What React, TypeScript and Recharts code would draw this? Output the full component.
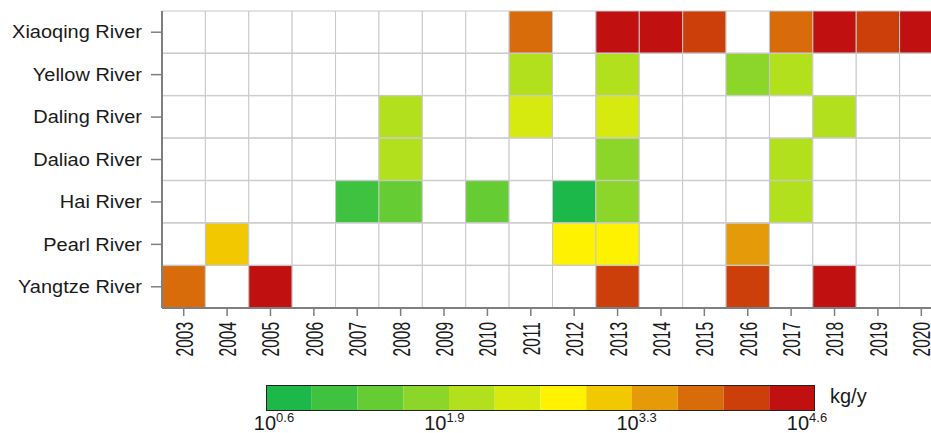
import * as React from 'react';
import { BarChart, Bar, Cell, XAxis, YAxis } from 'recharts';

// categories
const years = [2003, 2004, 2005, 2006, 2007, 2008, 2009, 2010, 2011, 2012, 2013, 2014, 2015, 2016, 2017, 2018, 2019, 2020];
const rivers = ['Xiaoqing River', 'Yellow River', 'Daling River', 'Daliao River', 'Hai River', 'Pearl River', 'Yangtze River'];

// log10(kg/y) per year, null = no data
const xiaoqing = [null, null, null, null, null, null, null, null, 3.77, null, 4.43, 4.43, 4.1, null, 3.77, 4.43, 4.1, 4.43];
const yellow = [null, null, null, null, null, null, null, null, 2.1, null, 2.1, null, null, 1.77, 2.1, null, null, null];
const daling = [null, null, null, null, null, 2.1, null, null, 2.43, null, 2.43, null, null, null, null, 2.1, null, null];
const daliao = [null, null, null, null, null, 2.1, null, null, null, null, 1.77, null, null, null, 2.1, null, null, null];
const hai = [null, null, null, null, 1.1, 1.43, null, 1.43, null, 0.77, 1.77, null, null, null, 2.1, null, null, null];
const pearl = [null, 3.1, null, null, null, null, null, null, null, 2.77, 2.77, null, null, 3.43, null, null, null, null];
const yangtze = [3.77, null, 4.43, null, null, null, null, null, null, null, 4.1, null, null, 4.1, null, 4.43, null, null];
const riverValues = [xiaoqing, yellow, daling, daliao, hai, pearl, yangtze];

// colour scale
const LOG_MIN = 0.6;
const LOG_MAX = 4.6;
const binColors = [
  '#1db84a', '#3ec23f', '#66cc33', '#8cd62a', '#b2e01c', '#d6ea10',
  '#fff200', '#f2c800', '#e59a0a', '#d96c0a', '#cc3e0a', '#c0100f'
];
const colorbarTicks = [0.6, 1.9, 3.3, 4.6];

const FONT = '"Liberation Sans", Arial, Helvetica, sans-serif';
const GRID = '#c8c8c8';
const AXIS = '#7f7f7f';

const BIN_STEP = (LOG_MAX - LOG_MIN) / binColors.length;

const colorFor = (v: number | null) => {
  if (v === null || v === undefined) return '#ffffff';
  const i = Math.max(0, Math.min(binColors.length - 1, Math.floor((v - LOG_MIN) / BIN_STEP)));
  return binColors[i];
};

const gridData = rivers.map((river) => {
  const row: Record<string, string | number> = { river };
  years.forEach((y) => { row[`y${y}`] = 1; });
  return row;
});

// one stacked row: a hidden offset up to LOG_MIN, then one segment per colour bin
const colorbarRow: Record<string, string | number> = { name: 'scale', offset: LOG_MIN };
binColors.forEach((_, i) => { colorbarRow[`b${i}`] = BIN_STEP; });
const colorbarData = [colorbarRow];

const RiverTick = (props: any) => {
  const { x, y, payload } = props;
  return (
    <g transform={`translate(${x},${y}) scale(1.08,1)`}>
      <text x={0} y={0} textAnchor="end" dominantBaseline="central" fontSize={18.5} fontFamily={FONT} fill="#1a1a1a">
        {payload.value}
      </text>
    </g>
  );
};

const YearTick = (props: any) => {
  const { x, y, payload } = props;
  const year = years[Math.round(payload.value - 0.5)];
  return (
    <g transform={`translate(${x},${y}) rotate(-90) scale(1,1.58)`}>
      <text x={0} y={0} textAnchor="end" dominantBaseline="central" fontSize={15.5} fontFamily={FONT} fill="#1a1a1a">
        {year}
      </text>
    </g>
  );
};

const PowerTick = (props: any) => {
  const { x, y, payload, index } = props;
  const dx = index === 0 ? 8 : index === colorbarTicks.length - 1 ? -8 : 0;
  return (
    <text x={x + dx} y={y + 15} textAnchor="middle" fontSize={20} fontFamily={FONT} fill="#1a1a1a">
      <tspan>10</tspan>
      <tspan dy={-8} fontSize={13}>{payload.value}</tspan>
    </text>
  );
};

export default function App() {
  return (
    <div style={{ position: 'absolute', left: 0, top: 0, width: 931, height: 433, overflow: 'hidden', background: '#fff' }}>
      <div style={{ position: 'absolute', left: 0, top: 0 }}>
        <BarChart
          width={945}
          height={370}
          data={gridData}
          layout="vertical"
          barCategoryGap={0}
          margin={{ top: 11, right: 2, bottom: 0, left: 0 }}
        >
          {years.map((year, c) => (
            <Bar
              key={year}
              dataKey={`y${year}`}
              stackId="grid"
              stroke={GRID}
              strokeWidth={1}
              isAnimationActive={false}
            >
              {rivers.map((river, r) => (
                <Cell key={river} fill={colorFor(riverValues[r][c])} />
              ))}
            </Bar>
          ))}
          <XAxis
            type="number"
            domain={[0, years.length]}
            ticks={years.map((_, i) => i + 0.5)}
            interval={0}
            height={62}
            tickSize={8}
            tickMargin={6}
            axisLine={{ stroke: AXIS, strokeWidth: 2 }}
            tickLine={{ stroke: AXIS, strokeWidth: 1.5 }}
            tick={<YearTick />}
          />
          <YAxis
            type="category"
            dataKey="river"
            width={162}
            interval={0}
            tickSize={11}
            tickMargin={9}
            axisLine={{ stroke: AXIS, strokeWidth: 2 }}
            tickLine={{ stroke: AXIS, strokeWidth: 1.5 }}
            tick={<RiverTick />}
          />
        </BarChart>
      </div>

      <div style={{ position: 'absolute', left: 0, top: 375 }}>
        <BarChart
          width={931}
          height={58}
          data={colorbarData}
          layout="vertical"
          barCategoryGap={0}
          margin={{ top: 10, right: 116, bottom: 0, left: 266 }}
        >
          <Bar dataKey="offset" stackId="cb" fill="transparent" isAnimationActive={false} />
          {binColors.map((color, i) => (
            <Bar key={color} dataKey={`b${i}`} stackId="cb" fill={color} isAnimationActive={false} />
          ))}
          <XAxis
            type="number"
            domain={[LOG_MIN, LOG_MAX]}
            allowDataOverflow
            ticks={colorbarTicks}
            interval={0}
            height={22}
            tickSize={0}
            tickMargin={4}
            axisLine={false}
            tickLine={false}
            tick={<PowerTick />}
          />
          <YAxis type="category" dataKey="name" hide />
        </BarChart>
      </div>

      <div
        style={{
          position: 'absolute', left: 266, top: 385, width: 549, height: 26,
          boxSizing: 'border-box', border: '1px solid #222', pointerEvents: 'none'
        }}
      />

      <div style={{ position: 'absolute', left: 830, top: 386, fontFamily: FONT, fontSize: 20, lineHeight: '20px', color: '#1a1a1a' }}>
        kg/y
      </div>
    </div>
  );
}
